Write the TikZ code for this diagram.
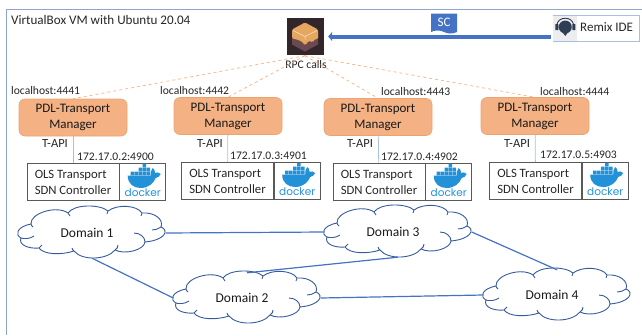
\documentclass[tikz,border=0pt]{standalone}
\usepackage{fontspec}
\setmainfont{Carlito}
\newfontfamily\logofont{Poppins}
\usetikzlibrary{positioning, shapes.symbols, arrows.meta}
\definecolor{mgrfill}{HTML}{F4B183}
\definecolor{mgrline}{HTML}{EDA36F}
\definecolor{linkblue}{HTML}{4472C4}
\definecolor{frameblue}{HTML}{8EA6CF}
\definecolor{apiblue}{HTML}{A9BEE3}
\definecolor{whaleblue}{HTML}{2391D8}
\definecolor{rpcdark}{HTML}{33262B}
\definecolor{rpcbrown}{HTML}{6A4A50}
\definecolor{cubeorange}{HTML}{E5A65F}
\definecolor{headset}{HTML}{2F3E55}
\newcommand{\fsize}[1]{\fontsize{#1}{16}\selectfont}
\newcommand{\dockerlogo}[1]{
	\fill[whaleblue, shift={(#1.center)}]
		(-15,-6.5) .. controls (-15,2) and (-9,6) .. (-2,6) .. controls (6,6) and (11,1) .. (13,-4)
		.. controls (15,-4) and (17,-6) .. (18,-8) .. controls (16,-10) and (14,-10) .. (12.5,-9)
		.. controls (12.5,-12) and (11,-13) .. (10,-14) .. controls (8,-12) and (8,-9) .. (8,-6.5) -- cycle
		(-12,-10.5) rectangle (-8.5,-7) (-8,-10.5) rectangle (-4.5,-7) (-4,-10.5) rectangle (-0.5,-7)
		(0,-10.5) rectangle (3.5,-7) (4,-10.5) rectangle (7.5,-7)
		(-4,-14.5) rectangle (-0.5,-11) (0,-14.5) rectangle (3.5,-11) (4,-14.5) rectangle (7.5,-11)
		(0,-18.5) rectangle (3.5,-15);
	\node[dockerword] (#1word) at ([yshift=-10.5pt]#1.center) {docker};
}
\newcommand{\cloudoutline}[1]{
	\draw[cloudcurl, shift={(#1.center)}]
		(-71,5) .. controls (-77,2) and (-76,-6) .. (-61,-9)
		.. controls (-62,-20) and (-35,-28) .. (-24,-20)
		.. controls (-18,-29) and (8,-29) .. (16,-22)
		.. controls (25,-29) and (45,-28) .. (50,-20)
		.. controls (62,-21) and (72,-14) .. (69,-6)
		.. controls (77,-3) and (74,7) .. (53,9)
		.. controls (52,17) and (33,22) .. (23,17)
		.. controls (15,27) and (-10,28) .. (-18,18)
		.. controls (-30,22) and (-48,22) .. (-53,15)
		.. controls (-63,16) and (-74,12) .. (-71,5) -- cycle
		(42,0) .. controls (48,0) and (53,4) .. (53,9)
		(-71,5) .. controls (-68,6) and (-62,6) .. (-58,3)
		(-53,15) .. controls (-52,14) and (-51,13) .. (-50,12)
		(23,17) .. controls (25,16) and (26,14) .. (26,12)
		(-18,18) .. controls (-19,17) and (-20,16) .. (-20,15)
		(69,-6) .. controls (66,-4) and (63,-3) .. (60,-3)
		(50,-20) .. controls (50,-19) and (49,-18) .. (49,-17)
		(16,-22) .. controls (16,-21) and (15,-20) .. (15,-19)
		(-24,-20) .. controls (-23,-19) and (-23,-18) .. (-22,-17)
		(-61,-9) .. controls (-61,-8) and (-60,-7) .. (-59,-6);
}
\begin{document}
\begin{tikzpicture}[x=1pt, y=-1pt,
	plaintext/.style={inner sep=0pt, text=black!85},
	hostlabel/.style={plaintext, font=\fsize{11.6}},
	apilabel/.style={plaintext, font=\fsize{12.5}},
	manager/.style={draw=mgrline, fill=mgrfill, rounded corners=6pt, minimum width=108pt, minimum height=37pt, align=center, inner sep=0pt, line width=0.6pt, font=\fsize{13}, text=black!90},
	olsbox/.style={draw=black!65, minimum width=92pt, minimum height=37pt, align=left, inner sep=0pt, line width=0.7pt, font=\fsize{12.7}, text=black!85},
	dockerbox/.style={draw=black!65, minimum width=46pt, minimum height=37pt, inner sep=0pt, line width=0.7pt},
	dockerword/.style={inner sep=0pt, text=whaleblue, font=\logofont\fsize{10.5}},
	rpclink/.style={draw=mgrfill, dashed, line width=0.7pt},
	apilink/.style={draw=apiblue, line width=0.8pt},
	domaincloud/.style={minimum width=147pt, minimum height=50pt, inner sep=0pt},
	domaintext/.style={plaintext, font=\fsize{13.5}, text=black!90},
	cloudcurl/.style={draw=linkblue!80!black, line width=0.9pt},
	domainlink/.style={draw=linkblue, line width=1.2pt}]
	\useasboundingbox (0,0) rectangle (642,335);
	\coordinate (framebottom) at (6,335);
	\coordinate (framecorner) at (6,9);
	\coordinate (frameright) at (642,9);
	\draw[frameblue, line width=1pt] (framebottom) -- (framecorner) -- (frameright);
	\node[plaintext, anchor=west, font=\fsize{13.1}] (title) at (11,20) {VirtualBox VM with Ubuntu 20.04};

	\node[manager] (m1) at (73,117.5) {PDL-Transport\\Manager};
	\node[manager] (m2) at (228,116) {PDL-Transport\\Manager};
	\node[manager] (m3) at (378,117) {PDL-Transport\\Manager};
	\node[manager] (m4) at (535,116) {PDL-Transport\\Manager};

	\node[hostlabel, anchor=west] (h1) at (11,91) {localhost:4441};
	\node[hostlabel, anchor=west] (h2) at (160,91) {localhost:4442};
	\node[hostlabel, anchor=west] (h3) at (381,92) {localhost:4443};
	\node[hostlabel, anchor=west] (h4) at (540,92) {localhost:4444};

	\node[olsbox] (c1) at (73,182) {OLS Transport\\SDN Controller};
	\node[olsbox] (c2) at (227.5,181) {OLS Transport\\SDN Controller};
	\node[olsbox] (c3) at (379,182) {OLS Transport\\SDN Controller};
	\node[olsbox] (c4) at (535.5,181) {OLS Transport\\SDN Controller};

	\node[dockerbox, right=0pt of c1] (d1) {};
	\node[dockerbox, right=0pt of c2] (d2) {};
	\node[dockerbox, right=0pt of c3] (d3) {};
	\node[dockerbox, right=0pt of c4] (d4) {};
	\dockerlogo{d1}
	\dockerlogo{d2}
	\dockerlogo{d3}
	\dockerlogo{d4}

	\draw[apilink] (m1) -- (c1);
	\draw[apilink] (m2) -- (c2);
	\draw[apilink] (m3) -- (c3);
	\draw[apilink] (m4) -- (c4);

	\node[apilabel] (a1) at (55,143) {T-API};
	\node[apilabel] (a2) at (210,143) {T-API};
	\node[apilabel] (a3) at (360,143) {T-API};
	\node[apilabel] (a4) at (517,143) {T-API};
	\node[hostlabel, anchor=west] (i1) at (77,157) {172.17.0.2:4900};
	\node[hostlabel, anchor=west] (i2) at (230,156) {172.17.0.3:4901};
	\node[hostlabel, anchor=west] (i3) at (381,157) {172.17.0.4:4902};
	\node[hostlabel, anchor=west] (i4) at (540,155) {172.17.0.5:4903};

	\node[draw=white, fill=rpcdark, minimum size=38pt, inner sep=0pt] (rpc) at (305,36.5) {};
	\fill[rpcbrown, shift={(rpc.center)}] (-13,-7) -- (0,-1) -- (13,-7) -- (13,8) -- (0,15) -- (-13,8) -- cycle;
	\fill[cubeorange, rounded corners=1.5pt, shift={(rpc.center)}] (0,-14) -- (13,-7) -- (13,3) -- (10,2) -- (8,6) -- (4,4) -- (0,9) -- (-3,5) -- (-8,3) -- (-13,2) -- (-13,-7) -- cycle;
	\draw[white!70!cubeorange, line width=0.5pt, shift={(rpc.center)}] (-12,-6) -- (0,0) -- (12,-6) (0,0) -- (0,3);
	\node[plaintext, font=\fsize{11.6}] (rpctext) at (306,65) {RPC calls};
	\draw[rpclink] (rpc.south) -- (m1.north);
	\draw[rpclink] (rpc.south) -- (m2.north);
	\draw[rpclink] (rpc.south) -- (m3.north);
	\draw[rpclink] (rpc.south) -- (m4.north);

	\node[draw=apiblue, fill=white, minimum width=86pt, minimum height=26pt, inner sep=0pt, line width=0.9pt] (remix) at (596,28) {};
	\node[fill=black!7, minimum width=24pt, minimum height=25pt, inner sep=0pt, anchor=west] (remixicon) at ([xshift=0.5pt]remix.west) {};
	\node[plaintext, anchor=west, font=\fsize{13}] (remixtext) at (580,27) {Remix IDE};
	\fill[headset, shift={(remixicon.center)}] (-10,-4) rectangle (-7,2) (7,-4) rectangle (10,2)
		(0,-1) circle (6.5) (-3,4) -- (3,4) -- (0,8) -- cycle;
	\draw[headset, line width=0.9pt, shift={(remixicon.center)}] (-8.5,-3) .. controls (-7,-12) and (7,-12) .. (8.5,-3);

	\draw[linkblue, line width=4pt, -{Triangle[length=4pt, width=9pt]}] ([xshift=-2pt]remix.west |- rpc.east) -- ([xshift=4pt]rpc.east);
	\node[tape, tape bend top=none, tape bend bottom=out and in, tape bend height=3pt, fill=linkblue, text=white, minimum width=26pt, minimum height=20pt, inner sep=0pt, font=\fsize{13}] (sc) at (444,22) {SC};

	\node[domaincloud] (n1) at (92,233) {};
	\node[domaincloud] (n2) at (247,298) {};
	\node[domaincloud] (n3) at (398,232) {};
	\node[domaincloud] (n4) at (557,295) {};
	\cloudoutline{n1}
	\cloudoutline{n2}
	\cloudoutline{n3}
	\cloudoutline{n4}
	\node[domaintext, xshift=-5pt] (t1) at (n1.center) {Domain 1};
	\node[domaintext, xshift=-5pt] (t2) at (n2.center) {Domain 2};
	\node[domaintext, xshift=-5pt] (t3) at (n3.center) {Domain 3};
	\node[domaintext, xshift=-5pt] (t4) at (n4.center) {Domain 4};

	\draw[domainlink] (n1.east) -- (n3.west);
	\draw[domainlink] (n1.south) -- (n2.west);
	\draw[domainlink] (n3.south) -- (n2.north);
	\draw[domainlink] (n3.east) -- (n4.north);
	\draw[domainlink] (n2.east) -- (n4.west);
\end{tikzpicture}
\end{document}
